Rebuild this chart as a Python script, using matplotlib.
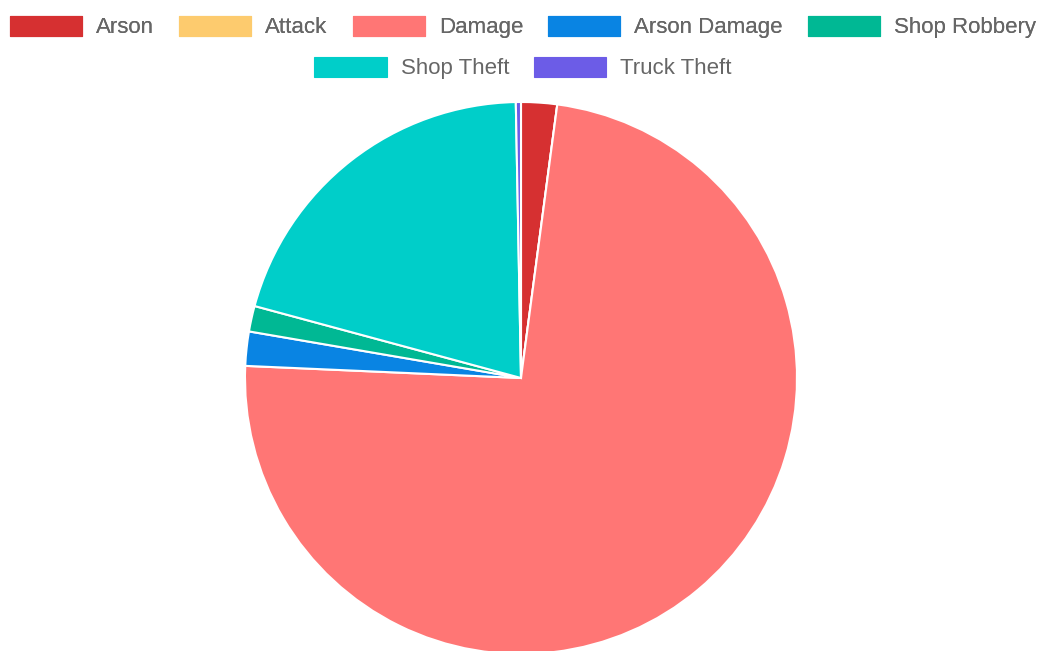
import matplotlib.pyplot as plt
from matplotlib.patches import Patch

plt.rcParams['font.family'] = ['Liberation Sans', 'DejaVu Sans']

# Data to plot
labels = ['Arson', 'Attack', 'Damage', 'Arson Damage', 'Shop Robbery', 'Shop Theft', 'Truck Theft']
counts = [21, 0, 736, 20, 15, 205, 3]
colors = ['#d63031', '#fdcb6e', '#ff7675', '#0984e3', '#00b894', '#00cec9', '#6c5ce7']

fig = plt.figure(figsize=(10.46, 6.51), dpi=100)

# pie area: centre (521, 378) px, radius 276 px
ax = fig.add_axes([245 / 1046, -3 / 651, 552 / 1046, 552 / 651])
ax.pie(counts, colors=colors, startangle=90, counterclock=False, radius=1,
       wedgeprops=dict(edgecolor='white', linewidth=1.5))
ax.set_xlim(-1, 1)
ax.set_ylim(-1, 1)
ax.axis('off')

handles = [Patch(facecolor=c, edgecolor=c, linewidth=0.8) for c in colors]
leg_kw = dict(frameon=False, fontsize=16, labelcolor='#666666',
              handlelength=3.25, handleheight=1.0, handletextpad=0.63,
              columnspacing=1.12, borderaxespad=0, borderpad=0, loc='center')

leg1 = fig.legend(handles[:5], labels[:5], ncol=5,
                  bbox_to_anchor=(0.5, 1 - 27 / 651), **leg_kw)
fig.add_artist(leg1)
fig.legend(handles[5:], labels[5:], ncol=2,
           bbox_to_anchor=(0.5, 1 - 68 / 651), **leg_kw)

fig.savefig('out.png', dpi=100)
